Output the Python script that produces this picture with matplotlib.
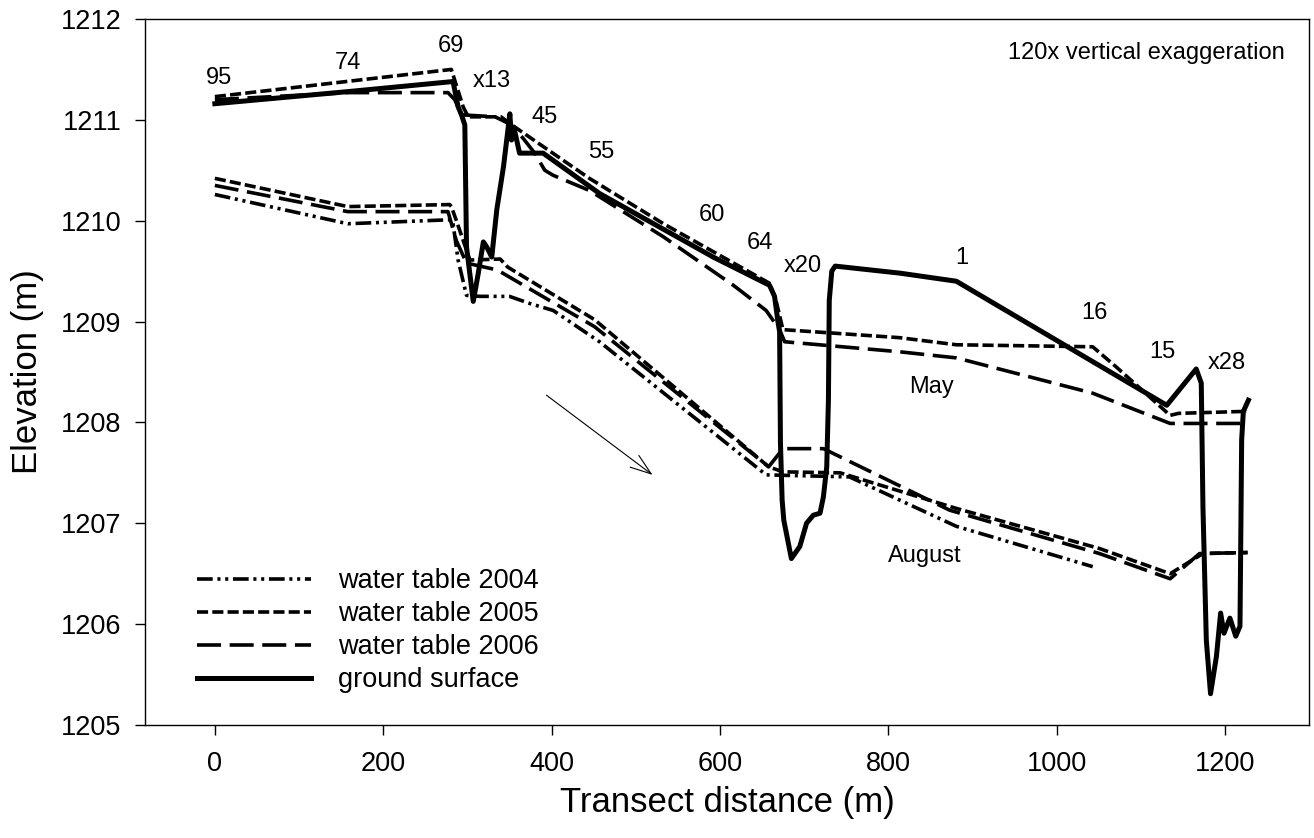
import matplotlib
matplotlib.use("Agg")
import matplotlib.pyplot as plt

plt.rcParams['font.family'] = ['Liberation Sans', 'DejaVu Sans']
plt.rcParams['lines.scale_dashes'] = False

# --- ground surface profile ---
ground_x = [0, 158, 283, 289, 293, 297, 299, 307, 313, 319, 323, 329, 335, 343,
            350.5, 352.5, 356, 362, 390, 457, 592, 659, 665, 669, 671, 672, 674,
            676, 685, 695, 703, 711, 719, 723, 727, 729, 730, 733, 737, 814, 881,
            1131, 1166, 1172, 1174, 1178, 1183, 1190, 1195, 1199, 1206, 1213,
            1218, 1220, 1222, 1228]
ground_y = [1211.16, 1211.28, 1211.38, 1211.13, 1211.05, 1210.95, 1209.74, 1209.20,
            1209.48, 1209.79, 1209.74, 1209.64, 1210.11, 1210.54, 1211.06, 1210.80,
            1210.90, 1210.67, 1210.67, 1210.27, 1209.64, 1209.36, 1209.25, 1209.00,
            1208.90, 1207.80, 1207.23, 1207.03, 1206.65, 1206.77, 1207.00, 1207.08,
            1207.10, 1207.26, 1207.56, 1208.22, 1209.21, 1209.50, 1209.55, 1209.48,
            1209.40, 1208.17, 1208.53, 1208.39, 1207.16, 1205.84, 1205.31, 1205.68,
            1206.11, 1205.91, 1206.06, 1205.88, 1205.98, 1207.83, 1208.11, 1208.22]

# --- May water tables ---
may05_x = [0, 281, 295, 301, 340, 351, 445, 533, 659, 667, 675, 814, 881, 1043,
           1071, 1135, 1145, 1226]
may05_y = [1211.23, 1211.50, 1211.13, 1211.03, 1211.03, 1210.96, 1210.42, 1209.97,
           1209.38, 1209.20, 1208.92, 1208.84, 1208.77, 1208.75, 1208.55, 1208.07,
           1208.09, 1208.11]

may06_x = [0, 158, 277, 285, 293, 333, 350, 366, 380, 392, 402, 445, 533, 616, 655,
           671, 677, 814, 881, 1043, 1135, 1224]
may06_y = [1211.20, 1211.27, 1211.27, 1211.20, 1211.05, 1211.03, 1210.96, 1210.82,
           1210.67, 1210.50, 1210.45, 1210.30, 1209.84, 1209.36, 1209.11, 1208.92,
           1208.80, 1208.70, 1208.64, 1208.29, 1207.99, 1207.99]

# --- August water tables ---
aug04_x = [0, 158, 281, 283, 289, 299, 315, 350, 374, 402, 457, 655, 754, 881, 1043]
aug04_y = [1210.26, 1209.97, 1210.01, 1209.97, 1209.61, 1209.26, 1209.25, 1209.25,
           1209.18, 1209.11, 1208.80, 1207.48, 1207.46, 1206.97, 1206.57]

aug05_x = [0, 158, 279, 281, 287, 303, 339, 348, 451, 658, 675, 743, 880, 1051,
           1135, 1174, 1227]
aug05_y = [1210.42, 1210.14, 1210.16, 1210.14, 1210.00, 1209.61, 1209.62, 1209.54,
           1209.02, 1207.56, 1207.51, 1207.50, 1207.15, 1206.75, 1206.50, 1206.70,
           1206.71]

aug06_x = [0, 158, 277, 287, 299, 331, 340, 451, 658, 675, 723, 873, 1051, 1135,
           1170, 1227]
aug06_y = [1210.35, 1210.09, 1210.09, 1209.80, 1209.58, 1209.52, 1209.49, 1208.95,
           1207.56, 1207.74, 1207.74, 1207.13, 1206.70, 1206.45, 1206.70, 1206.71]

# --- well / transect labels (baseline positions) ---
well_labels = ['95', '74', '69', 'x13', '45', '55', '60', '64', 'x20', '1', '16', '15', 'x28']
well_x = [5, 158, 281, 329, 392, 459, 591, 648, 698, 887, 1045, 1126, 1202]
well_y = [1211.355, 1211.50, 1211.676, 1211.33, 1210.97, 1210.62, 1209.997, 1209.72,
          1209.495, 1209.57, 1209.03, 1208.64, 1208.53]

# line styles (points)
dash04 = (0, (11.3, 3.4, 2.2, 3.4, 2.2, 3.4))
dash05 = (0, (8, 3))
dash06 = (0, (17.3, 6.2))
lw_wt = 2.6
lw_gs = 3.6

fig = plt.figure(figsize=(13.14, 8.38), dpi=100)
ax = fig.add_axes([145 / 1314, 1 - 725 / 838, 1164 / 1314, 706 / 838])

ax.plot(aug04_x, aug04_y, color='black', lw=lw_wt, linestyle=dash04, label='water table 2004')
ax.plot(aug05_x, aug05_y, color='black', lw=lw_wt, linestyle=dash05, label='water table 2005')
ax.plot(aug06_x, aug06_y, color='black', lw=lw_wt, linestyle=dash06, label='water table 2006')
ax.plot(may05_x, may05_y, color='black', lw=lw_wt, linestyle=dash05)
ax.plot(may06_x, may06_y, color='black', lw=lw_wt, linestyle=dash06)
ax.plot(ground_x, ground_y, color='black', lw=lw_gs, solid_joinstyle='round',
        label='ground surface', zorder=3)

for lab, x, y in zip(well_labels, well_x, well_y):
    ax.text(x, y, lab, fontsize=17, ha='center', va='baseline')

ax.text(852, 1208.29, 'May', fontsize=17, ha='center', va='baseline')
ax.text(843.5, 1206.62, 'August', fontsize=17, ha='center', va='baseline')
ax.text(1271, 1211.60, '120x vertical exaggeration', fontsize=17, ha='right', va='baseline')

# flow direction arrow
ax.annotate('', xy=(520, 1207.48), xytext=(394, 1208.27),
            arrowprops=dict(arrowstyle='->,head_length=1.0,head_width=0.35',
                            lw=0.8, color='black', mutation_scale=15,
                            shrinkA=0, shrinkB=0))

ax.set_xlim(-83, 1300)
ax.set_ylim(1205, 1212)
ax.set_xticks([0, 200, 400, 600, 800, 1000, 1200])
ax.set_yticks([1205, 1206, 1207, 1208, 1209, 1210, 1211, 1212])
ax.tick_params(direction='out', length=7, width=1, labelsize=19.5)
ax.tick_params(axis='x', pad=12)
ax.tick_params(axis='y', pad=10)
for s in ax.spines.values():
    s.set_linewidth(1.0)

ax.set_xlabel('Transect distance (m)', fontsize=25, labelpad=6)
ax.set_ylabel('Elevation (m)', fontsize=25, labelpad=12)

leg = ax.legend(loc='upper left', bbox_to_anchor=(0.0447, 0.222), borderaxespad=0,
                borderpad=0, frameon=False, fontsize=19.5, handlelength=4.22,
                handletextpad=1.0, labelspacing=0.26)

fig.savefig('out.png', dpi=100)
